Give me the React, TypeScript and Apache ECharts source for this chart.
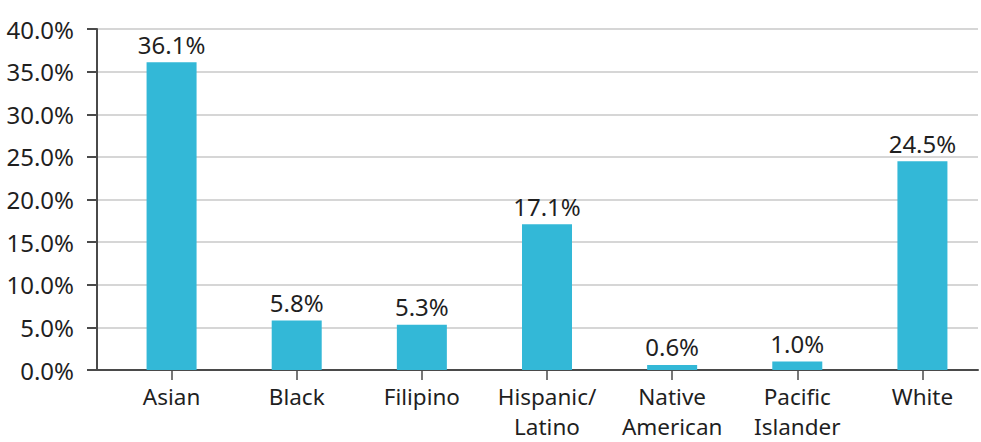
import React, { useEffect, useRef } from "react";
import * as echarts from "echarts";

const categories = ["Asian", "Black", "Filipino", "Hispanic/\nLatino", "Native\nAmerican", "Pacific\nIslander", "White"];
const shares = [36.1, 5.8, 5.3, 17.1, 0.6, 1.0, 24.5];
const yTicks = { min: 0, max: 40, interval: 5 };

const FONT = "'Noto Sans', 'Open Sans', sans-serif";
const BAR = "#33b8d7";
const INK = "#1f1f1f";
const AXIS = "#4a4a4a";

export default function App() {
  const ref = useRef<HTMLDivElement>(null);

  useEffect(() => {
    if (!ref.current) return;
    const chart = echarts.init(ref.current, undefined, { renderer: "svg" });
    chart.setOption({
      animation: false,
      backgroundColor: "#ffffff",
      textStyle: { fontFamily: FONT },
      grid: [
        // frame: y axis, gridlines and baseline
        { left: 97, right: 3, top: 29, bottom: 72, outerBoundsMode: "none", containLabel: false },
        // bars
        { left: 109, width: 876, top: 29, bottom: 72, outerBoundsMode: "none", containLabel: false },
      ],
      xAxis: [
        {
          gridIndex: 0,
          type: "value",
          min: 0,
          max: 1,
          axisLine: { show: true, lineStyle: { color: AXIS, width: 2 } },
          axisTick: { show: false },
          axisLabel: { show: false },
          splitLine: { show: false },
        },
        {
          gridIndex: 1,
          type: "category",
          data: categories,
          axisLine: { show: false },
          axisTick: { show: true, alignWithLabel: true, length: 10, lineStyle: { color: AXIS, width: 1.5 } },
          axisLabel: {
            color: INK,
            fontFamily: FONT,
            fontSize: 22.5,
            lineHeight: 30,
            margin: 11,
            interval: 0,
          },
        },
      ],
      yAxis: [
        {
          gridIndex: 0,
          type: "value",
          min: yTicks.min,
          max: yTicks.max,
          interval: yTicks.interval,
          axisLine: { show: true, lineStyle: { color: AXIS, width: 2 } },
          axisTick: { show: true, length: 10, lineStyle: { color: AXIS, width: 2 } },
          axisLabel: {
            color: INK,
            fontFamily: FONT,
            fontSize: 24,
            margin: 23,
            formatter: (v: number) => v.toFixed(1) + "%",
          },
          splitLine: { show: true, lineStyle: { color: "#c9c9c9", width: 1.5 } },
        },
        {
          gridIndex: 1,
          type: "value",
          min: yTicks.min,
          max: yTicks.max,
          show: false,
        },
      ],
      series: [
        {
          type: "bar",
          xAxisIndex: 1,
          yAxisIndex: 1,
          data: shares,
          barWidth: 50,
          itemStyle: { color: BAR },
          label: {
            show: true,
            position: "top",
            distance: 6,
            color: INK,
            fontFamily: FONT,
            fontSize: 24,
            formatter: (p: any) => Number(p.value).toFixed(1) + "%",
          },
        },
      ],
    });
    return () => chart.dispose();
  }, []);

  return <div ref={ref} style={{ width: 981, height: 442, position: "absolute", left: 0, top: 0 }} />;
}
